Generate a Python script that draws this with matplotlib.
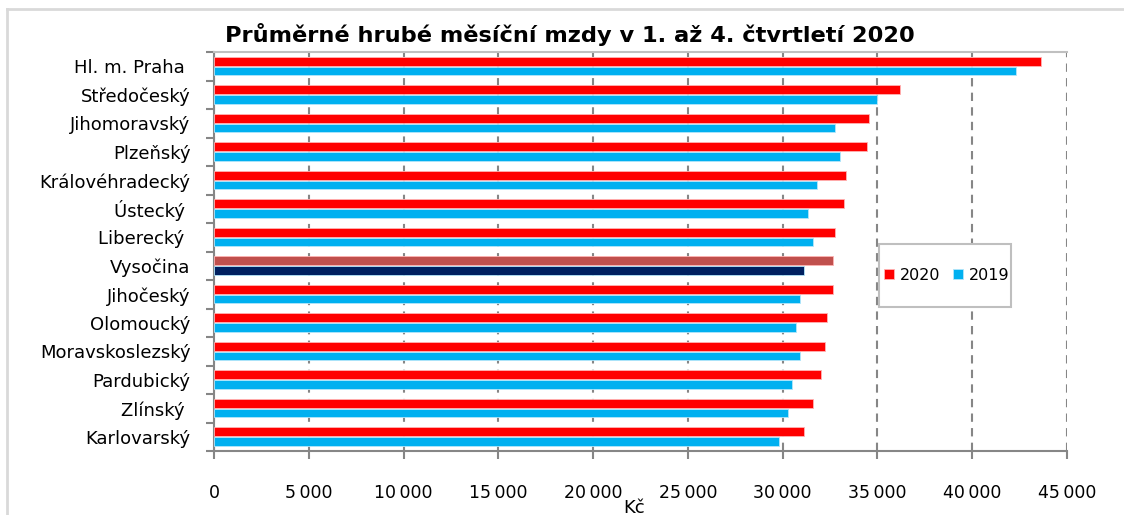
import numpy as np
import matplotlib.pyplot as plt
from matplotlib.lines import Line2D
from matplotlib.patches import Rectangle

regions = ['Hl. m. Praha ', 'Středočeský', 'Jihomoravský', 'Plzeňský', 'Královéhradecký',
           'Ústecký ', 'Liberecký ', 'Vysočina', 'Jihočeský', 'Olomoucký',
           'Moravskoslezský', 'Pardubický', 'Zlínský ', 'Karlovarský']
mzdy_2020 = [43625, 36200, 34565, 34475, 33350, 33245, 32735, 32630, 32630, 32350,
             32245, 32030, 31625, 31120]
mzdy_2019 = [42305, 34970, 32735, 33035, 31820, 31330, 31625, 31120, 30910, 30710,
             30925, 30515, 30305, 29815]
xticks = np.arange(0, 45001, 5000)

fig = plt.figure(figsize=(11.24, 5.15), dpi=100)
ax = fig.add_axes([214/1124, 1-451/515, (1067-214)/1124, (451-52)/515])

y = np.arange(len(regions))
c20 = ['#FF0000'] * len(regions)
c19 = ['#00B0F0'] * len(regions)
c20[regions.index('Vysočina')] = '#C0504D'
c19[regions.index('Vysočina')] = '#002060'

ax.barh(y - 0.18, mzdy_2020, height=0.31, color=c20, edgecolor='#ffb3b3', linewidth=0.6,
        label='2020', zorder=3)
ax.barh(y + 0.17, mzdy_2019, height=0.29, color=c19, edgecolor='#b3e6fa', linewidth=0.6,
        label='2019', zorder=3)

ax.set_ylim(len(regions) - 0.5, -0.5)
ax.set_xlim(0, 45000)
ax.set_yticks(y)
ax.set_yticklabels(regions, fontsize=13)
ax.set_yticks(np.arange(-0.5, len(regions)), minor=True)
ax.tick_params(axis='y', which='major', length=0, pad=17)
ax.tick_params(axis='y', which='minor', length=6, width=1.5, color='#868686', direction='out')
ax.set_xticks(xticks)
ax.set_xticklabels([f'{v:,}'.replace(',', '\u2009') for v in xticks], fontsize=12.5)
ax.tick_params(axis='x', length=6, width=1.5, color='#868686', pad=18)
ax.set_xlabel('Kč', fontsize=13, labelpad=-4)
ax.xaxis.set_label_coords(0.492, -0.12)

ax.grid(axis='x', linestyle=(0, (4, 3)), color='#868686', linewidth=1.5, zorder=1)
for s in ['left', 'bottom']:
    ax.spines[s].set_color('#868686')
    ax.spines[s].set_linewidth(1.5)
ax.spines['top'].set_color('#c0c0c0')
ax.spines['top'].set_linewidth(1.5)
ax.spines['right'].set_visible(False)

fig.text(570/1124, 1-35/515, 'Průměrné hrubé měsíční mzdy v 1. až 4. čtvrtletí 2020',
         ha='center', va='center', fontsize=16.2, fontweight='bold')

# legend box
ax.add_patch(Rectangle((0.7796, 0.3609), 0.1547, 0.1579, transform=ax.transAxes,
                       facecolor='white', edgecolor='#bfbfbf', lw=1.5, zorder=4))
leg = ax.legend(loc='center', bbox_to_anchor=(0.859, 0.441), ncol=2, fontsize=11.5,
                handlelength=0.65, handleheight=0.65, handletextpad=0.35, columnspacing=0.8,
                borderpad=0.2, frameon=False)
leg.set_zorder(5)

# outer chart border
fig.add_artist(Line2D([7/1124, 1], [1-9/515, 1-9/515], color='#d9d9d9', lw=2))
fig.add_artist(Line2D([7/1124, 7/1124], [0, 1-9/515], color='#d9d9d9', lw=2))

fig.savefig('out.png', dpi=100)
